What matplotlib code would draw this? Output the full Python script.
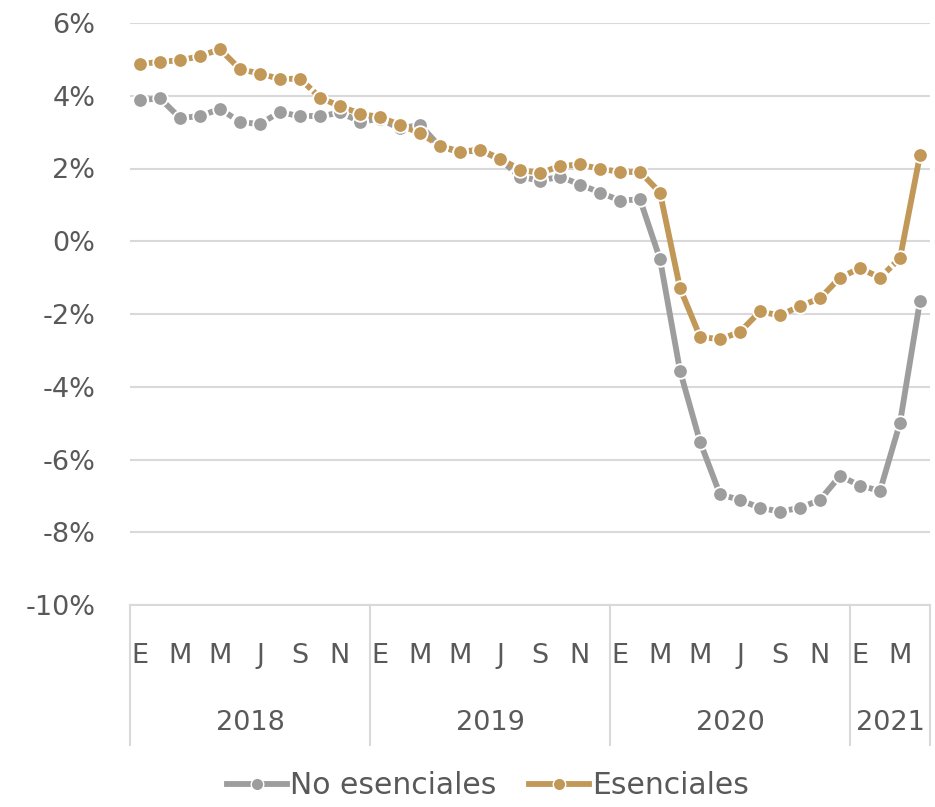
import matplotlib.pyplot as plt
import numpy as np
from matplotlib.lines import Line2D
from matplotlib.transforms import blended_transform_factory

plt.rcParams['font.family'] = ['DejaVu Sans']

# monthly series, Jan 2018 .. Apr 2021
esenciales = [4.86, 4.94, 4.97, 5.09, 5.28, 4.73, 4.61, 4.46, 4.47, 3.95, 3.71, 3.51,
              3.41, 3.20, 2.97, 2.63, 2.46, 2.52, 2.27, 1.97, 1.87, 2.07, 2.11, 1.99,
              1.91, 1.91, 1.34, -1.29, -2.62, -2.70, -2.49, -1.93, -2.04, -1.78, -1.57, -1.00,
              -0.74, -1.00, -0.47, 2.37]
no_esenciales = [3.88, 3.93, 3.39, 3.44, 3.64, 3.28, 3.22, 3.56, 3.43, 3.43, 3.54, 3.29,
                 3.36, 3.10, 3.20, 2.60, 2.45, 2.50, 2.25, 1.78, 1.66, 1.78, 1.56, 1.34,
                 1.12, 1.15, -0.49, -3.56, -5.51, -6.96, -7.11, -7.33, -7.43, -7.33, -7.11, -6.45,
                 -6.72, -6.86, -4.99, -1.64]
month_letters = ["E", "F", "M", "A", "M", "J", "J", "A", "S", "O", "N", "D"]
years = ["2018", "2019", "2020", "2021"]
months_per_year = [12, 12, 12, 4]

gray = "#9d9d9d"
gold = "#c29859"
text_col = "#595959"
grid_col = "#d9d9d9"

W, H = 935, 807
fig = plt.figure(figsize=(W / 100, H / 100), dpi=100)
ax = fig.add_axes([130 / W, 1 - 605 / H, 800 / W, 582 / H])

n = len(esenciales)
x = np.arange(n)
ax.set_xlim(-0.5, n - 0.5)
ax.set_ylim(-10, 6)
ax.set_yticks(np.arange(-10, 7, 2))
ax.set_yticklabels(["%d%%" % v for v in np.arange(-10, 7, 2)], fontsize=19.5, color=text_col)
ax.tick_params(axis="y", length=0, pad=25)
ax.set_xticks([])
ax.grid(axis="y", color=grid_col, lw=1.5)
ax.set_axisbelow(True)
for s in ax.spines.values():
    s.set_visible(False)


def draw_series(vals, col):
    vals = np.asarray(vals)
    pts = ax.transData.transform(np.column_stack([x, vals]))
    for i in range(n - 1):
        seg = np.hypot(*(pts[i + 1] - pts[i]))
        ls = "-" if seg > 28.0 else (0, (1, 0.55))
        ax.plot(x[i:i + 2], vals[i:i + 2], color=col, lw=4.2, ls=ls,
                solid_capstyle="butt", dash_capstyle="butt", zorder=3)
    ax.plot(x, vals, "o", ms=10.5, mfc=col, mec="white", mew=1.3, zorder=4)


draw_series(no_esenciales, gray)
draw_series(esenciales, gold)

# category axis below the plot
tr = blended_transform_factory(ax.transData, ax.transAxes)
ax.plot([-0.5, n - 0.5], [0, 0], color=grid_col, lw=1.5, transform=tr, clip_on=False)
start = 0
bounds = [-0.5]
for yr, cnt in zip(years, months_per_year):
    for m in range(0, cnt, 2):
        ax.text(start + m, -0.087, month_letters[m], transform=tr, ha="center", va="center",
                fontsize=19.5, color=text_col)
    ax.text(start + (cnt - 1) / 2, -0.202, yr, transform=tr, ha="center", va="center",
            fontsize=19.5, color=text_col)
    start += cnt
    bounds.append(start - 0.5)
for b in bounds:
    ax.plot([b, b], [0, -0.24], color=grid_col, lw=1.5, transform=tr, clip_on=False)

handles = [Line2D([], [], color=gray, lw=4.2, marker="o", ms=9, mec="white", mew=1),
           Line2D([], [], color=gold, lw=4.2, marker="o", ms=9, mec="white", mew=1)]
fig.legend(handles, ["No esenciales", "Esenciales"], loc="center", bbox_to_anchor=(488 / W, 1 - 786 / H),
           ncol=2, frameon=False, fontsize=21.5, labelcolor=text_col, handlelength=2.0,
           handletextpad=0.1, columnspacing=1.1)

fig.savefig("out.png", dpi=100)
